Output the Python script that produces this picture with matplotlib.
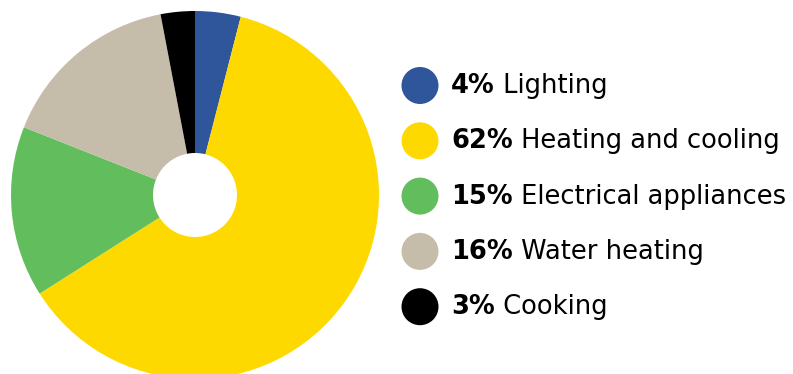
import matplotlib
matplotlib.use("Agg")
import matplotlib.pyplot as plt
from matplotlib.patches import Circle

categories = ["Lighting", "Heating and cooling", "Electrical appliances", "Water heating", "Cooking"]
values = [4, 62, 15, 16, 3]
colors = ["#2F559A", "#FDD900", "#62BE5D", "#C5BCAA", "#000000"]

W, H = 793, 374
fig = plt.figure(figsize=(W / 100, H / 100), dpi=100)
ax = fig.add_axes([0, 0, 1, 1])

cx, cy, r = 195, H - 195, 184
ax.pie(values, colors=colors, startangle=90, counterclock=False,
       center=(cx, cy), radius=r, frame=True,
       wedgeprops=dict(linewidth=0))
ax.add_patch(Circle((cx, cy), 42, facecolor="white", edgecolor="none", zorder=5))

ax.set_xlim(0, W)
ax.set_ylim(0, H)
ax.set_aspect("equal")
ax.axis("off")

font = "DejaVu Sans"
fs = 18.5
base0, dy = 93, 55.3
for i, (cat, v, c) in enumerate(zip(categories, values, colors)):
    yb = H - (base0 + i * dy)
    ax.add_patch(Circle((420, yb + 7.5), 18.5, facecolor=c, edgecolor="none"))
    t = ax.text(451, yb, f"{v}%", fontsize=fs, fontweight="bold", family=font,
                va="baseline", ha="left", color="black")
    ax.annotate(f" {cat}", xy=(1, 0), xycoords=t, fontsize=fs, family=font,
                va="bottom", ha="left", color="black")

fig.savefig("out.png", dpi=100)
